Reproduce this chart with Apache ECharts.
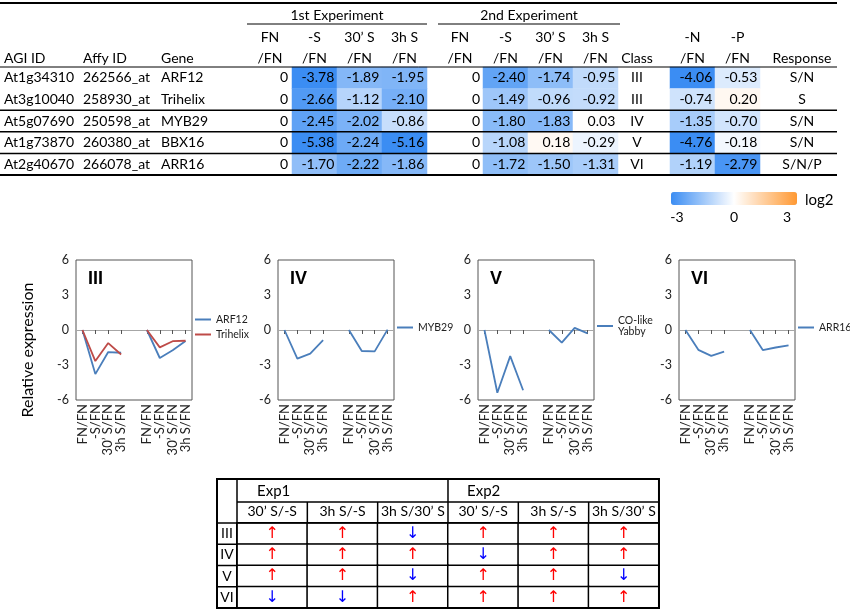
<!DOCTYPE html>
<html>
<head>
<meta charset="utf-8">
<title>Sulfur / nitrogen response genes</title>
<script src="https://cdn.jsdelivr.net/npm/echarts@6/dist/echarts.min.js"></script>
<style>html,body{margin:0;padding:0;background:#fff;}</style>
</head>
<body>
<div id="main" style="width:850px;height:612px;"></div>
<script>
// ---- table data (log2 ratios) ----
var agiIds = ['At1g34310', 'At3g10040', 'At5g07690', 'At1g73870', 'At2g40670'];
var affyIds = ['262566_at', '258930_at', '250598_at', '260380_at', '266078_at'];
var genes = ['ARF12', 'Trihelix', 'MYB29', 'BBX16', 'ARR16'];
// FN/FN, -S/FN, 30' S/FN, 3h S/FN
var exp1 = [
    [0, -3.78, -1.89, -1.95],
    [0, -2.66, -1.12, -2.10],
    [0, -2.45, -2.02, -0.86],
    [0, -5.38, -2.24, -5.16],
    [0, -1.70, -2.22, -1.86]
];
var exp2 = [
    [0, -2.40, -1.74, -0.95],
    [0, -1.49, -0.96, -0.92],
    [0, -1.80, -1.83, 0.03],
    [0, -1.08, 0.18, -0.29],
    [0, -1.72, -1.50, -1.31]
];
var classes = ['III', 'III', 'IV', 'V', 'VI'];
var minusN = [-4.06, -0.74, -1.35, -4.76, -1.19];
var minusP = [-0.53, 0.20, -0.70, -0.18, -2.79];
var responses = ['S/N', 'S', 'S/N', 'S/N', 'S/N/P'];

// ---- line panels ----
var lineCats = ['FN/FN', '-S/FN', '30’ S/FN', '3h S/FN', '', 'FN/FN', '-S/FN', '30’ S/FN', '3h S/FN'];
var panelClasses = ['III', 'IV', 'V', 'VI'];
var panelGenes = [[0, 1], [2], [3], [4]];
var panelNames = [['ARF12', 'Trihelix'], ['MYB29'], ['CO-like\nYabby'], ['ARR16']];
var yTicks = [-6, -3, 0, 3, 6];

// ---- ratio arrows table ----
var ratioCols = ['30’ S/-S', '3h S/-S', '3h S/30’ S', '30’ S/-S', '3h S/-S', '3h S/30’ S'];
var classRows = ['III', 'IV', 'V', 'VI'];
var arrows = [
    [1, 1, -1, 1, 1, 1],
    [1, 1, 1, -1, 1, 1],
    [1, 1, -1, 1, 1, -1],
    [-1, -1, 1, 1, 1, 1]
];

var font = 'Lato';
var chart = echarts.init(document.getElementById('main'));

var rowTop = 67, rowH = 21.6, colW = 45;
function rowY(i) { return rowTop + rowH * (i + 0.5); }

var grids = [], xAxes = [], yAxes = [], series = [], titles = [], legends = [], graphics = [];

function txt(s, x, y, align, size) {
    return {type: 'text', z: 100, x: x, y: y, style: {text: s, x: 0, y: 0,
        align: align || 'left', verticalAlign: 'middle',
        fontFamily: font, fontSize: size || 14, fill: '#000'}};
}
function hline(y, x1, x2, w) {
    return {type: 'line', z: 100, shape: {x1: x1, y1: y, x2: x2, y2: y}, style: {stroke: '#000', lineWidth: w || 1}};
}
function vline(x, y1, y2, w) {
    return {type: 'line', z: 100, shape: {x1: x, y1: y1, x2: x, y2: y2}, style: {stroke: '#000', lineWidth: w || 1}};
}

// ---- heatmap blocks of the top table ----
var heatBlocks = [
    {left: 292, cols: ['-S', '30’ S', '3h S'], values: exp1.map(function (r) { return r.slice(1); })},
    {left: 483, cols: ['-S', '30’ S', '3h S'], values: exp2.map(function (r) { return r.slice(1); })},
    {left: 670, cols: ['-N', '-P'], values: minusN.map(function (v, i) { return [v, minusP[i]]; })}
];
heatBlocks.forEach(function (b, k) {
    grids.push({left: b.left, top: rowTop, width: colW * b.cols.length, height: rowH * genes.length});
    xAxes.push({type: 'category', gridIndex: k, data: b.cols, show: false});
    yAxes.push({type: 'category', gridIndex: k, data: genes, inverse: true, show: false});
    var d = [];
    b.values.forEach(function (row, r) {
        row.forEach(function (v, c) { d.push([c, r, v]); });
    });
    series.push({
        type: 'heatmap', xAxisIndex: k, yAxisIndex: k, data: d,
        emphasis: {disabled: true},
        label: {
            show: true, position: 'insideRight', distance: 3,
            fontFamily: font, fontSize: 14, color: '#000',
            formatter: function (p) { return p.value[2].toFixed(2); }
        }
    });
});

// ---- line panels ----
var panelLeft = [76, 278, 478, 679], panelW = 116, panelTop = 260, panelH = 140;
var lineColors = ['#4a7ebb', '#be4b48'];
panelClasses.forEach(function (cls, p) {
    var gi = 3 + p;
    grids.push({left: panelLeft[p], top: panelTop, width: panelW, height: panelH,
        show: true, borderColor: '#555', borderWidth: 1});
    xAxes.push({
        type: 'category', gridIndex: gi, data: lineCats, position: 'bottom',
        axisLine: {show: false, onZero: false}, axisTick: {show: false},
        axisLabel: {rotate: 90, interval: 0, margin: 4, fontFamily: font, fontSize: 13, color: '#222'}
    });
    xAxes.push({
        type: 'category', gridIndex: gi, data: lineCats, position: 'bottom',
        axisLine: {show: true, onZero: true, lineStyle: {color: '#a6a6a6', width: 1}},
        axisTick: {show: true, alignWithLabel: true, length: 4,
            interval: function (i) { return lineCats[i] !== ''; },
            lineStyle: {color: '#555'}},
        axisLabel: {show: false}
    });
    yAxes.push({
        type: 'value', gridIndex: gi, min: yTicks[0], max: yTicks[yTicks.length - 1], interval: 3,
        axisLine: {show: false}, axisTick: {show: false}, splitLine: {show: false},
        axisLabel: {fontFamily: font, fontSize: 12.5, color: '#222', margin: 7}
    });
    panelGenes[p].forEach(function (g, j) {
        series.push({
            type: 'line', name: panelNames[p][j], xAxisIndex: 3 + 2 * p, yAxisIndex: gi,
            data: exp1[g].concat([null], exp2[g]),
            symbol: 'none', z: 3,
            lineStyle: {color: lineColors[j], width: 1.8},
            itemStyle: {color: lineColors[j]}
        });
    });
    titles.push({text: cls, left: panelLeft[p] + 12, top: 270, padding: 0,
        textStyle: {fontFamily: 'Liberation Sans', fontWeight: 'bold', fontSize: 18, color: '#000'}});
    var many = panelNames[p].length > 1;
    var twoLine = panelNames[p][0].indexOf('\n') >= 0;
    legends.push({
        data: panelNames[p], orient: 'vertical', selectedMode: false, icon: 'rect',
        left: panelLeft[p] + panelW + 3, top: many ? 314 : (twoLine ? 315 : 322),
        padding: 0, itemWidth: 16, itemHeight: 2, itemGap: 4,
        textStyle: {fontFamily: font, fontSize: 10.5, color: '#222',
            padding: twoLine ? [13, 0, 0, 0] : 0}
    });
});

// ---- ratio arrow table ----
var tL = 217, tTop = 479, cL = 237, cTop = 523, cW = 70.33, rH = 21.25;
grids.push({left: cL, top: cTop, width: cW * ratioCols.length, height: rH * classRows.length});
xAxes.push({
    type: 'category', gridIndex: 7, data: ratioCols, position: 'top',
    axisLine: {show: false}, axisTick: {show: false},
    axisLabel: {interval: 0, margin: 5, fontFamily: font, fontSize: 14, color: '#000'}
});
yAxes.push({
    type: 'category', gridIndex: 7, data: classRows, inverse: true,
    axisLine: {show: false}, axisTick: {show: false},
    axisLabel: {align: 'center', margin: 10, fontFamily: font, fontSize: 14, color: '#000'}
});
var arrowData = [];
arrows.forEach(function (row, r) {
    row.forEach(function (v, c) { arrowData.push([c, r, v]); });
});
series.push({
    type: 'heatmap', xAxisIndex: 11, yAxisIndex: 7, data: arrowData,
    emphasis: {disabled: true},
    itemStyle: {color: '#fff', borderColor: '#000', borderWidth: 1.5},
    label: {
        show: true,
        formatter: function (p) { return p.value[2] > 0 ? '{u|↑}' : '{d|↓}'; },
        rich: {
            u: {color: '#ff0000', fontFamily: 'DejaVu Sans', fontSize: 16},
            d: {color: '#0000ff', fontFamily: 'DejaVu Sans', fontSize: 16}
        }
    }
});

// ---- top table text and rules ----
var tableR = 837;
graphics.push(hline(3, 0, tableR, 2), hline(67, 0, tableR, 1));
[2, 3, 4].forEach(function (i) { graphics.push(hline(rowTop + rowH * i, 0, tableR, 1.5)); });
graphics.push(hline(rowTop + rowH * 5, 0, tableR, 2));
graphics.push(hline(24, 247, 427, 1), hline(24, 438, 620, 1));
graphics.push(txt('1st Experiment', 337, 15, 'center'), txt('2nd Experiment', 529, 15, 'center'));
var expHeads = ['FN', '-S', '30’ S', '3h S'];
[[270, 314.5, 359.5, 404.5], [460, 505.5, 550.5, 595.5]].forEach(function (xs) {
    xs.forEach(function (x, c) {
        graphics.push(txt(expHeads[c], x, 37, 'center'), txt('/FN', x, 58, 'center'));
    });
});
graphics.push(txt('-N', 692.5, 37, 'center'), txt('/FN', 692.5, 58, 'center'));
graphics.push(txt('-P', 737.5, 37, 'center'), txt('/FN', 737.5, 58, 'center'));
graphics.push(txt('Class', 637, 58, 'center'), txt('Response', 802, 58, 'center'));
graphics.push(txt('AGI ID', 4, 58), txt('Affy ID', 83, 58), txt('Gene', 161, 58));
genes.forEach(function (g, i) {
    var y = rowY(i);
    graphics.push(txt(agiIds[i], 4, y), txt(affyIds[i], 83, y), txt(g, 161, y));
    graphics.push(txt(String(exp1[i][0]), 288, y, 'right'), txt(String(exp2[i][0]), 480, y, 'right'));
    graphics.push(txt(classes[i], 637, y, 'center'), txt(responses[i], 802, y, 'center'));
});
// colour key labels
graphics.push(txt('-3', 677, 217, 'center'), txt('0', 734, 217, 'center'), txt('3', 787, 217, 'center'));
graphics.push(txt('log2', 805, 200, 'left', 15));

// y axis title for the line panels
var yTitle = txt('Relative expression', 28, 350, 'center', 16);
yTitle.rotation = Math.PI / 2;
graphics.push(yTitle);

// ratio table rules
var tR = cL + cW * ratioCols.length, tB = cTop + rH * classRows.length;
graphics.push({type: 'rect', z: 100, shape: {x: tL, y: tTop, width: tR - tL, height: tB - tTop},
    style: {fill: 'none', stroke: '#000', lineWidth: 2}});
graphics.push(vline(cL, tTop, tB, 1.5), hline(502, cL, tR, 1.5), hline(cTop, tL, tR, 1.5));
graphics.push(vline(cL + cW * 3, tTop, cTop, 1.5));
[1, 2, 4, 5].forEach(function (k) { graphics.push(vline(cL + cW * k, 502, cTop, 1.5)); });
[1, 2, 3].forEach(function (r) { graphics.push(hline(cTop + rH * r, tL, cL, 1.5)); });
graphics.push(txt('Exp1', 257, 491, 'left', 15), txt('Exp2', 467, 491, 'left', 15));

chart.setOption({
    animation: false,
    backgroundColor: '#fff',
    title: titles,
    legend: legends,
    grid: grids,
    xAxis: xAxes,
    yAxis: yAxes,
    visualMap: {
        type: 'continuous', min: -3, max: 3, seriesIndex: [0, 1, 2],
        orient: 'horizontal', left: 671, top: 192, padding: 0,
        itemWidth: 13, itemHeight: 126, calculable: false, hoverLink: false,
        inRange: {color: ['#3b8df3', '#ffffff', '#ff9933']}
    },
    graphic: graphics,
    series: series
});
</script>
</body>
</html>
